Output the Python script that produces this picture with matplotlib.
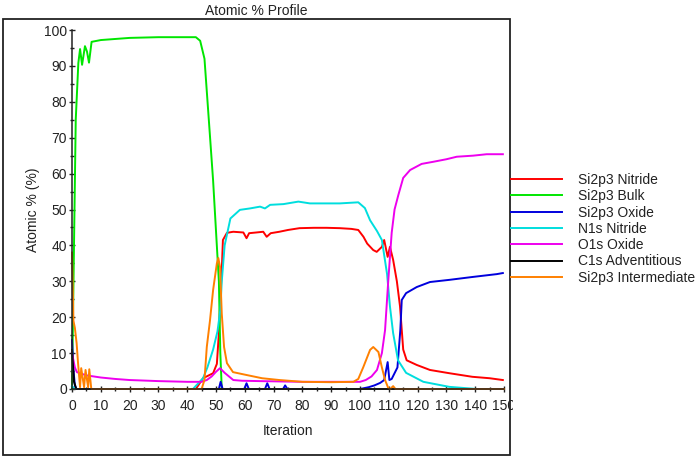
import matplotlib
matplotlib.use("Agg")
import matplotlib.pyplot as plt
from matplotlib.patches import Rectangle
from matplotlib.ticker import MultipleLocator

plt.rcParams['font.family'] = ['Liberation Sans', 'DejaVu Sans']

labels = ["Si2p3 Nitride", "Si2p3 Bulk", "Si2p3 Oxide", "N1s Nitride",
          "O1s Oxide", "C1s Adventitious", "Si2p3 Intermediate"]
colors = ["#ff0000", "#00e600", "#0000dd", "#00dede", "#ee00ee", "#000000", "#ff8000"]

nitride_x = [0, 43, 45.5, 49, 50.3, 51, 51.5, 52, 52.4, 53.8, 56, 59.5, 60.6, 61.5, 64, 66.4, 67.6,
             69, 72, 75, 79, 84, 88.4, 93, 97, 99.4, 101.2, 102.5, 104.6, 105.8, 107.6, 108.4,
             109.6, 110.4, 111.5, 112.8, 113.9, 115, 116.2, 119.7, 124.3, 131, 139, 145, 149.6]
nitride_y = [0, 0, 3, 4.4, 7, 15.5, 25, 33, 41.5, 43.5, 43.8, 43.6, 42, 43.4, 43.6, 43.8, 42.4,
             43.4, 43.8, 44.3, 44.8, 44.9, 44.9, 44.8, 44.6, 44.3, 42.4, 40.5, 38.7, 38.2, 39.6, 41.5,
             36.8, 39.6, 36, 30, 23, 11, 8, 6.7, 5.3, 4.4, 3.4, 3, 2.5]

bulk_x = [0, 1.3, 2.2, 2.8, 3.5, 4.5, 5.2, 5.9, 6.8, 10, 20, 30, 40, 43, 44.5, 46, 48, 49, 51, 51.5, 52, 150]
bulk_y = [0, 75, 90.8, 94.7, 90.3, 95.5, 94, 90.9, 96.7, 97.2, 97.8, 98, 98, 98, 97, 92, 69.4, 58, 30, 10, 0, 0]

oxide_x = [0, 0.5, 1, 1.5, 51, 51.6, 52.3, 59.8, 60.6, 61.4, 67, 67.8, 68.6, 73.3, 74, 74.8, 100, 103,
           105, 107, 108.4, 109.6, 110.2, 111, 113, 114, 114.5, 116, 119.7, 124.3, 131, 139, 147.5, 149.6]
oxide_y = [13.6, 5.3, 1, 0, 0, 2, 0, 0, 1.6, 0, 0, 1.6, 0, 0, 1, 0, 0, 0.5,
           1, 1.7, 2.5, 7.5, 2.5, 2.8, 6, 16.4, 24.8, 26.7, 28.4, 29.8, 30.4, 31.2, 32, 32.3]

n1s_x = [0, 1, 42, 45.5, 47, 49, 50.5, 51.5, 52, 53, 55, 58.3, 61.8, 65.3, 67, 68.8, 73.4, 78.6,
         82.6, 87.2, 93, 99.4, 101.7, 103.5, 105.9, 107.6, 109.4, 110.4, 111.5, 113.2, 116, 122, 131, 140.6]
n1s_y = [0.8, 0, 0, 3, 6, 11, 16, 22, 30, 40, 47.5, 49.9, 50.3, 50.8, 50.3, 51.3, 51.5, 52.2,
         51.7, 51.7, 51.7, 52, 50.4, 47, 44, 41.5, 32, 23, 15.6, 8, 4.5, 2, 0.6, 0]

o1s_x = [0, 1, 1.7, 5, 10, 15, 20, 30, 40, 45, 46.8, 48.5, 50, 51.4, 53, 56, 59, 65, 80, 95, 100,
         102, 104, 105.9, 107.6, 108.7, 109.8, 111, 112, 113.3, 115, 117.4, 121.4, 125.5, 130, 133.6,
         139.3, 144, 149.6]
o1s_y = [10, 6, 4.7, 3.8, 3.2, 2.8, 2.5, 2.2, 2.0, 2.0, 2.5, 3.5, 4.8, 5.8, 4.5, 2.5, 2.3, 2.2, 2.0,
         2.0, 2.0, 2.5, 3.5, 5.3, 10, 16.4, 30, 43.5, 50, 54, 58.8, 61, 62.7, 63.3, 64, 64.7,
         65, 65.4, 65.4]

c1s_x = [0, 0.7, 1.5, 150]
c1s_y = [10.9, 2, 0, 0]

inter_x = [0, 0.5, 1, 1.6, 2.1, 2.8, 3.2, 4.2, 4.7, 5.6, 6, 6.7, 45, 46, 46.8, 47.9, 49, 50.3, 50.8,
           51.4, 52, 52.8, 53.8, 55.9, 60.6, 66, 72, 80, 90, 97.7, 99.4, 101.1, 103.5, 104.6, 106.4,
           107.6, 108.7, 109.8, 110.5, 111.5, 112.3, 150]
inter_y = [38, 19, 17, 12.8, 7.2, 0.5, 5.8, 0.5, 5.3, 0.5, 5.5, 0, 0, 2.5, 11.7, 19, 27.6, 35, 36.5,
           34, 21, 11.7, 7.2, 4.7, 3.9, 3.0, 2.5, 2.0, 1.9, 2.0, 2.8, 6, 10.9, 11.7, 10.3,
           6, 2.5, 0.3, 0, 0.8, 0, 0]

series = [(nitride_x, nitride_y), (bulk_x, bulk_y), (oxide_x, oxide_y), (n1s_x, n1s_y),
          (o1s_x, o1s_y), (c1s_x, c1s_y), (inter_x, inter_y)]

W, H = 700, 459
fig = plt.figure(figsize=(7, 4.59), dpi=100)
ax = fig.add_axes([72 / W, (H - 389) / H, 432 / W, 359 / H])

handles = []
for (xs, ys), lab, col in zip(series, labels, colors):
    ln, = ax.plot(xs, ys, color=col, lw=1.4, label=lab, clip_on=False)
    handles.append(ln)

ax.set_xlim(0, 150)
ax.set_ylim(0, 100)
ax.xaxis.set_major_locator(MultipleLocator(10))
ax.xaxis.set_minor_locator(MultipleLocator(5))
ax.yaxis.set_major_locator(MultipleLocator(10))
ax.yaxis.set_minor_locator(MultipleLocator(5))
for s in ['top', 'right']:
    ax.spines[s].set_visible(False)
for s in ['left', 'bottom']:
    ax.spines[s].set_linewidth(1.1)
    ax.spines[s].set_color('#222222')
ax.tick_params(which='major', direction='inout', length=4.5, width=1, color='#222222',
               labelsize=10, labelcolor='#222222')
ax.tick_params(which='minor', direction='inout', length=3.5, width=1, color='#222222')
ax.tick_params(axis='y', pad=1.5)
ax.tick_params(axis='x', pad=5)

ax.set_xlabel('Iteration', fontsize=10, color='#222222')
ax.xaxis.set_label_coords(0.5, -(424 - 389) / 359)
ax.set_ylabel('Atomic % (%)', fontsize=10, color='#222222')
ax.yaxis.set_label_coords((40 - 72) / 432, 0.5)

# title centred over the outer frame
fig.text(256.5 / W, 1 - 15 / H, 'Atomic % Profile', fontsize=10, color='#222222',
         ha='center', va='baseline')

# cover beyond the frame (clips the last tick label like the reference)
fig.add_artist(Rectangle((513 / W, 0), (W - 513) / W, 0.3, transform=fig.transFigure,
                         facecolor='white', edgecolor='none', zorder=3))
# outer frame
fig.add_artist(Rectangle((3 / W, (H - 455) / H), 507 / W, 436 / H, transform=fig.transFigure,
                         fill=False, edgecolor='#222222', lw=1.3, zorder=4))

leg = fig.legend(handles, labels, loc='upper left', bbox_to_anchor=(511 / W, (H - 173) / H),
                 bbox_transform=fig.transFigure, frameon=False, fontsize=10,
                 handlelength=3.67, handletextpad=1.15, labelspacing=0.165,
                 borderpad=0, borderaxespad=0)
leg.set_zorder(5)
for t in leg.get_texts():
    t.set_color('#222222')

fig.savefig('out.png', dpi=100)
